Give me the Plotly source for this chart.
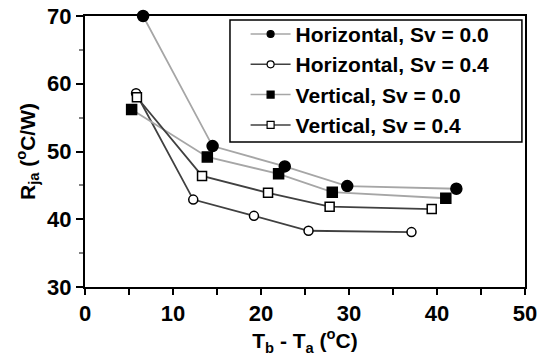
import plotly.graph_objects as go

# Data
h00_x = [6.6, 14.5, 22.7, 29.8, 42.2]
h00_y = [70.0, 50.8, 47.8, 44.9, 44.5]
h04_x = [5.8, 12.3, 19.2, 25.4, 37.1]
h04_y = [58.6, 42.9, 40.5, 38.3, 38.1]
v00_x = [5.3, 13.9, 22.0, 28.1, 41.0]
v00_y = [56.2, 49.2, 46.7, 44.0, 43.1]
v04_x = [5.9, 13.3, 20.8, 27.8, 39.4]
v04_y = [58.0, 46.4, 43.9, 41.85, 41.5]
names = ["Horizontal, Sv = 0.0", "Horizontal, Sv = 0.4",
         "Vertical, Sv = 0.0", "Vertical, Sv = 0.4"]
x_ticks = [0, 10, 20, 30, 40, 50]
y_ticks = [30, 40, 50, 60, 70]

light = "#a6a6a6"
dark = "#404040"
FAM = "Liberation Sans, Arial, sans-serif"

fig = go.Figure()
series = [
    (h00_x, h00_y, names[0], light, "circle", "black", 11),
    (h04_x, h04_y, names[1], dark, "circle", "white", 9),
    (v00_x, v00_y, names[2], light, "square", "black", 10),
    (v04_x, v04_y, names[3], dark, "square", "white", 9),
]
for i, (xs, ys, nm, lc, sym, fc, sz) in enumerate(series):
    fig.add_trace(go.Scatter(
        x=xs, y=ys, name=nm, mode="lines+markers", showlegend=False,
        line=dict(color=lc, width=1.8),
        marker=dict(symbol=sym, size=sz, color=fc,
                    line=dict(color="black", width=1.5)),
        cliponaxis=False,
    ))
# legend entries (smaller markers, as in the reference legend)
for i, (xs, ys, nm, lc, sym, fc, sz) in enumerate(series):
    fig.add_trace(go.Scatter(
        x=[None], y=[None], name="<b>" + nm + "</b>", mode="lines+markers",
        legendgroup=str(i),
        line=dict(color=lc, width=1.5),
        marker=dict(symbol=sym, size=7, color=fc,
                    line=dict(color="black", width=1.2)),
    ))

# legend frame
fig.add_shape(type="rect", xref="paper", yref="paper",
              x0=0.3295, x1=0.993, y0=0.535, y1=0.985,
              line=dict(color="black", width=1.5), fillcolor="white",
              layer="above")

fig.update_layout(
    width=539, height=356,
    margin=dict(l=85, r=14, t=16, b=69, autoexpand=False),
    paper_bgcolor="white", plot_bgcolor="white",
    font=dict(family=FAM, size=21, color="black"),
    showlegend=True,
    legend=dict(
        x=0.365, y=1.008, xanchor="left", yanchor="top",
        borderwidth=0, bgcolor="rgba(0,0,0,0)",
        font=dict(family=FAM, size=21, color="black"),
        traceorder="grouped", tracegroupgap=0,
        itemwidth=40,
    ),
    xaxis=dict(
        range=[0, 50], automargin=False,
        showline=True, linecolor="black", linewidth=2, mirror=True,
        ticks="outside", ticklen=6, tickwidth=1.5, tickcolor="black",
        minor=dict(dtick=5, ticks="outside", ticklen=6, tickwidth=1.5, tickcolor="black"),
        showgrid=False, zeroline=False,
        tickmode="array", tickvals=x_ticks,
        ticktext=["<b>%d</b>" % v for v in x_ticks],
        tickfont=dict(family=FAM, size=22),
        title=dict(text="<b>T<sub>b</sub> - T<sub>a</sub> (<sup>o</sup>C)</b>",
                   font=dict(family=FAM, size=21), standoff=0),
    ),
    yaxis=dict(
        range=[30, 70], automargin=False,
        showline=True, linecolor="black", linewidth=2, mirror=True,
        ticks="outside", ticklen=7, tickwidth=1.5, tickcolor="black",
        minor=dict(dtick=5, ticks="outside", ticklen=4, tickwidth=1.5, tickcolor="#808080"),
        showgrid=False, zeroline=False,
        tickmode="array", tickvals=y_ticks,
        ticktext=["<b>%d</b>" % v for v in y_ticks],
        tickfont=dict(family=FAM, size=22),
        title=dict(text="<b>R<sub>ja</sub> (<sup>o</sup>C/W)</b>",
                   font=dict(family=FAM, size=21), standoff=6),
    ),
)

fig.write_html("out.html")
